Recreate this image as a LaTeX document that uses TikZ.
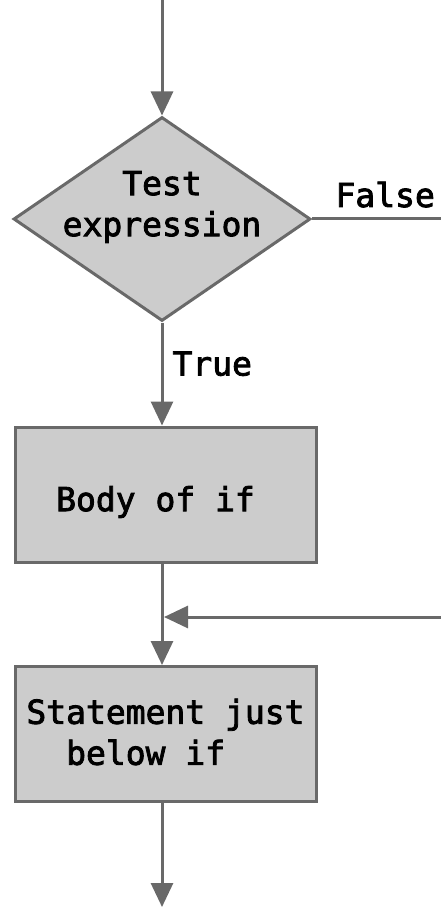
\documentclass[tikz,border=0pt]{standalone}
\usepackage{fontspec}
\setmonofont[FakeBold=2.5]{DejaVu Sans Mono}
\usetikzlibrary{shapes.geometric,arrows.meta}

\definecolor{flowline}{RGB}{105,105,105}
\definecolor{flowfill}{RGB}{204,204,204}

\tikzset{
  flow/.style={draw=flowline, line width=3pt, -{Triangle[length=24pt,width=22pt]}},
  decision/.style={diamond, draw=flowline, fill=flowfill, line width=3pt,
    minimum width=297pt, minimum height=204pt, inner sep=0pt},
  block/.style={rectangle, draw=flowline, fill=flowfill, line width=3pt,
    minimum width=301pt, minimum height=135pt, inner sep=0pt},
  code/.style={font=\ttfamily\fontsize{33pt}{41pt}\selectfont, inner sep=0pt, align=left},
}

\begin{document}
\begin{tikzpicture}[x=1pt,y=1pt]

    \useasboundingbox (0,0) rectangle (441,-909);

    % Shapes
    \node[decision] (test) at (162,-219) {};
    \node[block] (body) at (165.5,-494.5) {};
    \node[block] (stmt) at (165.5,-734) {};

    % Texts inside the shapes
    \node[code, align=center] (testtext) at ([yshift=12pt]test) {Test\\expression};
    \node[code] (bodytext) at ([xshift=-10pt,yshift=-7.5pt]body) {Body of if};
    \node[code] (stmttext) at ([yshift=2pt]stmt) {Statement just\\\hphantom{xx}below if};

    % Free ends
    \coordinate (top) at (162,0);
    \coordinate (bottom) at (162,-907);
    \coordinate (merge) at (164,-617);
    \coordinate (farright) at (445,-219);
    \coordinate (farbottom) at (445,-617);

    % Connectors
    \draw[flow] (top) -- (test);
    \draw[flow] (test) -- node[code, pos=0.4, anchor=west, xshift=9pt] (truelabel) {True} (test |- body.north);
    \draw[flow] (body.south -| test) -- (stmt.north -| test);
    \draw[flow] (test.east) -- node[code, pos=0, anchor=base west, xshift=22pt, yshift=12pt] (falselabel) {False}
        (farright) -- (farbottom) -- (merge);
    \draw[flow] (stmt.south -| test) -- (bottom);

\end{tikzpicture}
\end{document}
